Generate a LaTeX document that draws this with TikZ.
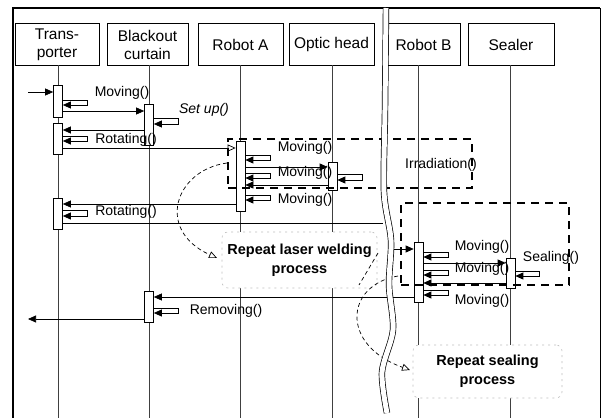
\documentclass[tikz,border=0pt]{standalone}
\usepackage{fontspec}
\setmainfont{Liberation Sans}
\usetikzlibrary{arrows.meta}
\tikzset{
  lifeline/.style={black!75, line width=0.6pt},
  hdr/.style={draw, line width=0.8pt, inner sep=0pt, minimum height=42pt, align=center, font=\fontsize{15.5}{18}\selectfont},
  bar/.style={draw, fill=white, line width=0.7pt, minimum width=9pt, inner sep=0pt, anchor=north},
  msg/.style={line width=0.7pt, -{Triangle[length=8pt,width=7pt]}},
  omsg/.style={line width=0.7pt, -{Triangle[open,length=8pt,width=7pt]}},
  selfc/.style={line width=0.8pt, -{Triangle[length=8pt,width=7pt]}},
  lbl/.style={inner sep=0pt, font=\fontsize{14}{16}\selectfont},
  dbox/.style={draw, line width=2pt, dash pattern=on 8pt off 6pt, inner sep=0pt},
  note/.style={draw=black!25, dash pattern=on 2pt off 4pt, line width=0.6pt, fill=white, rounded corners=6pt, inner sep=0pt, align=center, font=\fontsize{14.5}{19}\selectfont\bfseries},
  loopar/.style={line width=0.7pt, dash pattern=on 4pt off 3pt, -{Triangle[open,length=8pt,width=7pt]}},
}
\begin{document}
\begin{tikzpicture}[x=1pt,y=-1pt]
\useasboundingbox (0,0) rectangle (603,418);
% frame
\draw[line width=2pt] (13,418) -- (13,8) -- (600,8);
\draw[line width=0.7pt] (600,8) -- (600,418);
% headers
\node[hdr, minimum width=84pt] (tr) at (57,44.5) {Trans-\\porter};
\node[hdr, minimum width=81pt] (bc) at (147.5,44.5) {Blackout\\curtain};
\node[hdr, minimum width=85pt] (ra) at (240.5,44.5) {Robot A};
\node[hdr, minimum width=85pt] (oh) at (331.5,44.5) {Optic head};
\node[hdr, minimum width=73pt] (rb) at (423.5,44.5) {Robot B};
\node[hdr, minimum width=86pt] (se) at (511,44.5) {Sealer};
% lifelines
\draw[lifeline] (58,65) -- (58,418);
\draw[lifeline] (149,65) -- (149,418);
\draw[lifeline] (240.5,65) -- (240.5,418);
\draw[lifeline] (332.5,65) -- (332.5,418);
\draw[lifeline] (418.5,65) -- (418.5,418);
\draw[lifeline] (510.5,65) -- (510.5,418);
% notes
\node[note, minimum width=155pt, minimum height=56pt] (n1) at (299.5,260) {Repeat laser welding\\process};
\node[note, minimum width=149pt, minimum height=53pt] (n2) at (487.5,371.5) {Repeat sealing\\process};
% bars
\node[bar, minimum height=32pt] (a1) at (58,85) {};
\node[bar, minimum height=31pt] (a2) at (58,123) {};
\node[bar, minimum height=31pt] (a3) at (58,198) {};
\node[bar, minimum height=41pt] (b1) at (149,104) {};
\node[bar, minimum height=31pt] (b2) at (149,291) {};
\node[bar, minimum height=70pt] (r1) at (240.5,141) {};
\node[bar, minimum height=28pt] (o1) at (332.5,162) {};
\node[bar, minimum height=60pt] (q1) at (418.5,242) {};
\node[bar, minimum height=30pt] (s1) at (510.5,258) {};
% coordinates for free ends
\coordinate (in) at (28,92);
\coordinate (out) at (28,319);
\coordinate (brk1) at (383,223);
\coordinate (brk2) at (393,249);
% messages
\draw[msg] (in) -- (a1.west |- in);
\draw[msg] (a1.east |- 0,111) -- (b1.west |- 0,111);
\draw[selfc] (a1.east |- 0,100) -- ++(25,0) -- ++(0,5) -- (a1.east |- 0,105);
\draw[selfc] (b1.east |- 0,118) -- ++(25,0) -- ++(0,6) -- (b1.east |- 0,124);
\draw[msg] (b1.west |- 0,130) -- (a2.east |- 0,130);
\draw[selfc] (a2.east |- 0,136) -- ++(25,0) -- ++(0,5) -- (a2.east |- 0,141);
\draw[omsg] (a2.east |- 0,148) -- (r1.west |- 0,148);
\draw[selfc] (r1.east |- 0,155) -- ++(25,0) -- ++(0,5) -- (r1.east |- 0,160);
\draw[msg] (r1.east |- 0,167) -- (o1.west |- 0,167);
\draw[selfc] (r1.east |- 0,173) -- ++(25,0) -- ++(0,5) -- (r1.east |- 0,178);
\draw[selfc] (o1.east |- 0,174) -- ++(25,0) -- ++(0,6) -- (o1.east |- 0,180);
\draw[msg] (o1.west |- 0,185) -- (r1.east |- 0,185);
\draw[selfc] (r1.east |- 0,195) -- ++(25,0) -- ++(0,5) -- (r1.east |- 0,200);
\draw[msg] (r1.west |- 0,204) -- (a3.east |- 0,204);
\draw[selfc] (a3.east |- 0,210) -- ++(25,0) -- ++(0,6) -- (a3.east |- 0,216);
\draw[line width=0.7pt] (a3.east |- brk1) -- (brk1);
\draw[msg] (brk2) -- (q1.west |- brk2);
\draw[selfc] (q1.east |- 0,252) -- ++(25,0) -- ++(0,5) -- (q1.east |- 0,257);
\draw[msg] (q1.east |- 0,263) -- (s1.west |- 0,263);
\draw[selfc] (q1.east |- 0,270) -- ++(25,0) -- ++(0,5) -- (q1.east |- 0,275);
\draw[selfc] (s1.east |- 0,271) -- ++(24,0) -- ++(0,5) -- (s1.east |- 0,276);
\draw[msg] (s1.west |- 0,283) -- (q1.east |- 0,283);
\draw[selfc] (q1.east |- 0,290) -- ++(25,0) -- ++(0,5) -- (q1.east |- 0,295);
\draw[msg] (q1.west |- 0,297) -- (b2.east |- 0,297);
\draw[selfc] (b2.east |- 0,308) -- ++(25,0) -- ++(0,5) -- (b2.east |- 0,313);
\draw[msg] (b2.west |- out) -- (out);
% labels
\node[lbl] (l1) at (122,93) {Moving()};
\node[lbl] (l2) at (204,110) {\itshape Set up()};
\node[lbl] (l3) at (126,140) {Rotating()};
\node[lbl] (l4) at (305,148) {Moving()};
\node[lbl] (l5) at (305,173) {Moving()};
\node[lbl] (l6) at (441,165) {Irradiation()};
\node[lbl] (l7) at (305,200) {Moving()};
\node[lbl] (l8) at (126,212) {Rotating()};
\node[lbl] (l9) at (482,247) {Moving()};
\node[lbl] (l10) at (482,269) {Moving()};
\node[lbl] (l11) at (551,258) {Sealing()};
\node[lbl] (l12) at (482,301) {Moving()};
\node[lbl] (l13) at (226,311) {Removing()};
% dashed frames
\node[dbox, minimum width=244pt, minimum height=49pt] (irr) at (350,163.5) {};
\node[dbox, minimum width=168pt, minimum height=82pt] (seal) at (485,244) {};
% loop arrows
\coordinate (lp1a) at (227,163);
\coordinate (lp1b) at (217,258);
\draw[loopar] (lp1a) .. controls (175,170) and (155,230) .. (lp1b);
\coordinate (lp2a) at (398,276);
\coordinate (lp2b) at (410,370);
\draw[loopar] (lp2a) .. controls (345,285) and (340,345) .. (lp2b);
\coordinate (lp3a) at (378,253);
\coordinate (lp3b) at (359,285);
\draw[line width=0.7pt, dash pattern=on 4pt off 3pt] (lp3a) -- (lp3b);
% divider
\draw[line width=0.7pt, double=white, double distance=5pt] plot[smooth] coordinates {(386,8) (385,110) (384,192) (391,240) (389,285) (393,330) (382,372) (387,413)};
\end{tikzpicture}
\end{document}
